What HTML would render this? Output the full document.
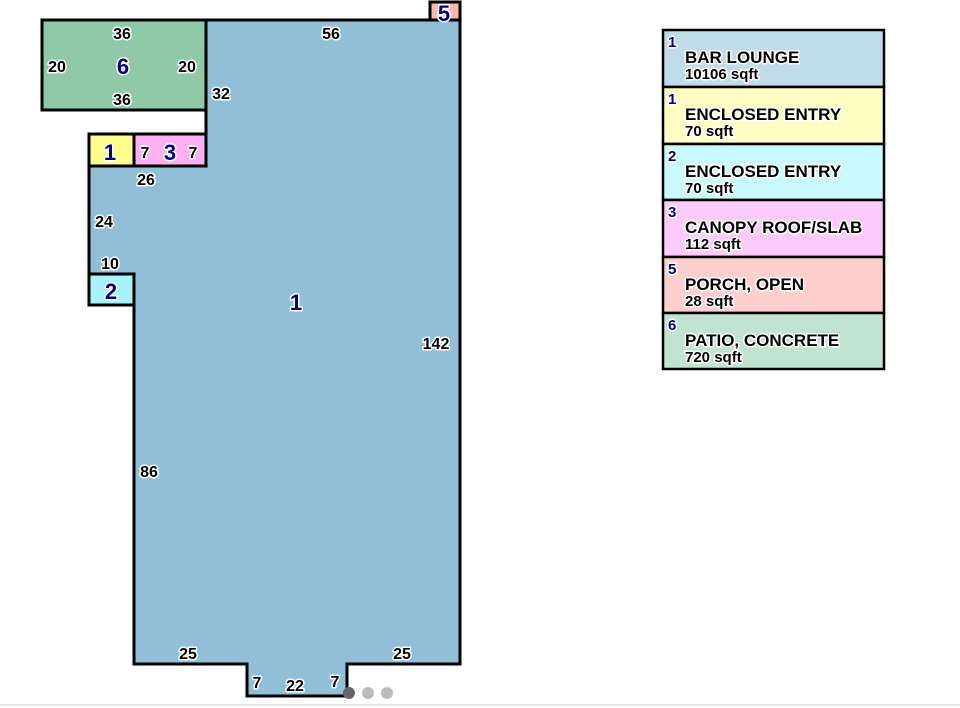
<!DOCTYPE html>
<html><head><style>
html,body{margin:0;padding:0;background:#fff;width:960px;height:708px;overflow:hidden}
svg text{font-family:"Liberation Sans",Arial,sans-serif;font-weight:bold;paint-order:stroke;stroke:#fff;stroke-width:3px;stroke-linejoin:round}
</style></head><body>
<svg width="960" height="708" viewBox="0 0 960 708" xmlns="http://www.w3.org/2000/svg">
<g stroke="#000" stroke-width="3" stroke-linejoin="miter">
<rect x="42" y="20" width="164" height="90" fill="#8fc9a7"/>
<rect x="430" y="2" width="30" height="18" fill="#fbb8b2"/>
<polygon points="206,20 460,20 460,664 347,664 347,696 247,696 247,664 134,664 134,305 134,274 89,274 89,166 206,166" fill="#91bfd7"/>
<rect x="89" y="134" width="45" height="32" fill="#fdfd8c"/>
<rect x="134" y="134" width="72" height="32" fill="#fbb0f4"/>
<rect x="89" y="274" width="45" height="31" fill="#a8f3fb"/>
</g>
<g font-size="16" fill="#000" text-anchor="middle">
<text x="122" y="39">36</text><text x="122" y="105">36</text>
<text x="57" y="72">20</text><text x="187" y="72">20</text>
<text x="331" y="39">56</text><text x="221" y="99">32</text>
<text x="145" y="158">7</text><text x="193" y="158">7</text>
<text x="146" y="185">26</text><text x="104" y="227">24</text>
<text x="110" y="269">10</text><text x="436" y="349">142</text>
<text x="149" y="477">86</text>
<text x="188" y="659">25</text><text x="402" y="659">25</text>
<text x="257" y="688">7</text><text x="295" y="691">22</text><text x="335" y="687">7</text>
</g>
<g font-size="22" fill="#000080" text-anchor="middle">
<text x="123" y="74">6</text><text x="110" y="160">1</text><text x="170" y="160">3</text>
<text x="111" y="299">2</text><text x="296" y="310">1</text><text x="444" y="21">5</text>
</g>
<g stroke="#000" stroke-width="2.5">
<rect x="663" y="30" width="221" height="57" fill="#c0dbe9"/>
<rect x="663" y="87" width="221" height="57" fill="#fefec4"/>
<rect x="663" y="144" width="221" height="56" fill="#c9f8fd"/>
<rect x="663" y="200" width="221" height="57" fill="#fdcbf9"/>
<rect x="663" y="257" width="221" height="56" fill="#fdcfcd"/>
<rect x="663" y="313" width="221" height="56" fill="#c1e3d0"/>
</g>
<g font-size="15" fill="#000080">
<text x="668" y="47">1</text><text x="668" y="104">1</text><text x="668" y="161">2</text>
<text x="668" y="217">3</text><text x="668" y="274">5</text><text x="668" y="330">6</text>
</g>
<g font-size="17" fill="#000">
<text x="685" y="63">BAR LOUNGE</text><text x="685" y="79" font-size="15">10106 sqft</text>
<text x="685" y="120">ENCLOSED ENTRY</text><text x="685" y="136" font-size="15">70 sqft</text>
<text x="685" y="177">ENCLOSED ENTRY</text><text x="685" y="193" font-size="15">70 sqft</text>
<text x="685" y="233">CANOPY ROOF/SLAB</text><text x="685" y="249" font-size="15">112 sqft</text>
<text x="685" y="290">PORCH, OPEN</text><text x="685" y="306" font-size="15">28 sqft</text>
<text x="685" y="346">PATIO, CONCRETE</text><text x="685" y="362" font-size="15">720 sqft</text>
</g>
<circle cx="349" cy="693" r="6" fill="#666"/>
<circle cx="368" cy="693" r="6" fill="#bbb"/>
<circle cx="387" cy="693" r="6" fill="#bbb"/>
<rect x="0" y="704" width="960" height="2" fill="#e6e6e6"/>
</svg>
</body></html>
